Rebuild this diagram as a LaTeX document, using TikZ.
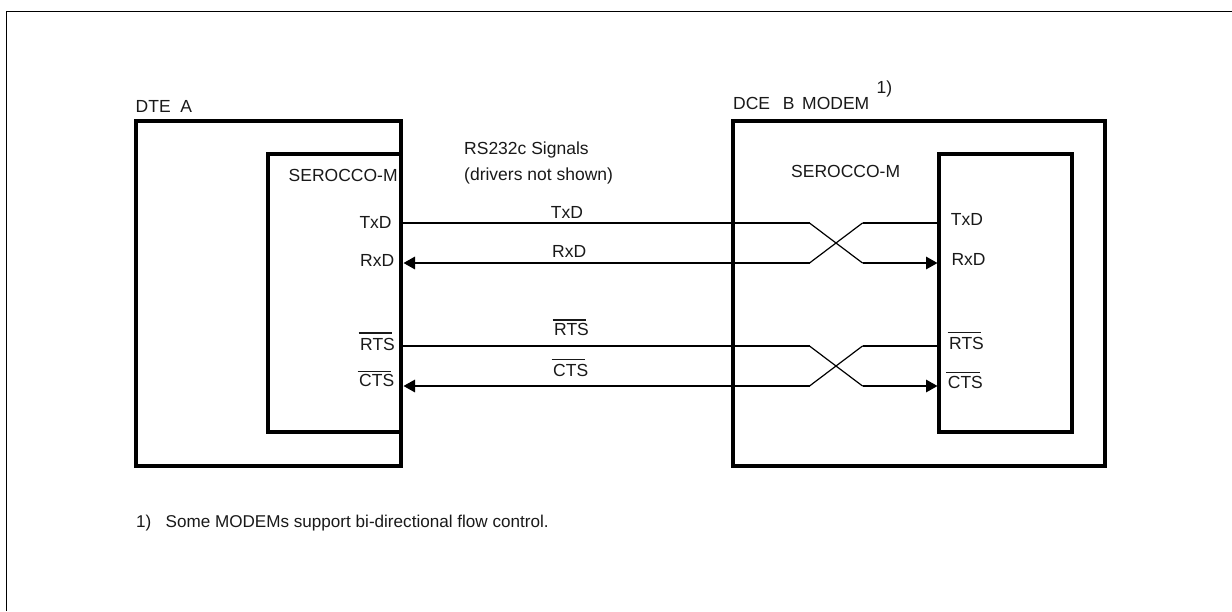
\documentclass[tikz,border=0pt]{standalone}
\usepackage{fontspec}
\setmainfont{Liberation Sans}
\usetikzlibrary{arrows.meta}
\tikzset{
  x=1pt,y=-1pt,
  box/.style={line width=3.2pt,line cap=rect},
  sig/.style={line width=1.6pt},
  cross/.style={line width=1.2pt,line cap=round},
  tip/.style={-{Triangle[length=11.5pt,width=12.5pt]}},
  lbl/.style={inner sep=0pt,anchor=base west,font=\fontsize{17.5}{20}\selectfont,text=black!90},
  note/.style={inner sep=0pt,anchor=base west,font=\fontsize{17.1}{20}\selectfont,text=black!90},
}
% #1 = height of the bar above the baseline, in px
\newcommand{\ovl}[2]{\leavevmode\rlap{\kern-1.5pt\raisebox{#1pt}{\rule{33.7pt}{1.5pt}}}#2}
\begin{document}
\begin{tikzpicture}
\useasboundingbox (0,0) rectangle (1232,611);
\draw[line width=1.2pt] (6.5,611) -- (6.5,11.5) -- (1232,11.5);
% boxes
\draw[box] (401,154) -- (268,154) -- (268,432) -- (401,432);
\draw[box] (136,121) rectangle (401,466);
\draw[box] (733,121) rectangle (1105,466);
\draw[box] (939,154) rectangle (1072,432);
% anchors
\coordinate (aT) at (403,223);
\coordinate (aR) at (403.5,263);
\coordinate (aS) at (403,346);
\coordinate (aC) at (403.5,386);
\coordinate (bT) at (938,223);
\coordinate (bR) at (937.5,263);
\coordinate (bS) at (938,346);
\coordinate (bC) at (937.5,386);
\coordinate (x1a) at (809.5,223);
\coordinate (x1b) at (862.5,263);
\coordinate (x1c) at (809.5,263);
\coordinate (x1d) at (862.5,223);
\coordinate (x2a) at (809.5,346);
\coordinate (x2b) at (862.5,386);
\coordinate (x2c) at (809.5,386);
\coordinate (x2d) at (862.5,346);
% signals
\draw[sig] (aT) -- (x1a);
\draw[cross] (x1a) -- (x1b);
\draw[sig,tip] (x1b) -- (bR);
\draw[sig,tip] (x1c) -- (aR);
\draw[cross] (x1c) -- (x1d);
\draw[sig] (x1d) -- (bT);
\draw[sig] (aS) -- (x2a);
\draw[cross] (x2a) -- (x2b);
\draw[sig,tip] (x2b) -- (bC);
\draw[sig,tip] (x2c) -- (aC);
\draw[cross] (x2c) -- (x2d);
\draw[sig] (x2d) -- (bS);
% labels
\node[lbl] (dte) at (135.5,112.7) {DTE\ \ A};
\node[lbl] (dce) at (733,109.3) {DCE\ \ \,B\ \,MODEM};
\node[lbl] (fn) at (876.5,93.3) {1)};
\node[lbl] (sa) at (288.5,181.7) {SEROCCO-M};
\node[lbl] (sb) at (791,177.3) {SEROCCO-M};
\node[lbl] (rs) at (464,154) {RS232c Signals};
\node[lbl] (dr) at (464,180.7) {(drivers not shown)};
\node[lbl] (t1) at (359.3,228) {TxD};
\node[lbl] (r1) at (360,266.7) {RxD};
\node[lbl] (s1) at (360,350) {\ovl{16.5}{RTS}};
\node[lbl] (c1) at (359,386.7) {\ovl{14.5}{CTS}};
\node[lbl] (t2) at (550.7,218) {TxD};
\node[lbl] (r2) at (552,257.7) {RxD};
\node[lbl] (s2) at (554,335) {\ovl{14.5}{RTS}};
\node[lbl] (c2) at (553,376) {\ovl{16}{CTS}};
\node[lbl] (t3) at (950.7,225) {TxD};
\node[lbl] (r3) at (951.3,265) {RxD};
\node[lbl] (s3) at (949,349.3) {\ovl{16}{RTS}};
\node[lbl] (c3) at (947.7,388.3) {\ovl{15}{CTS}};
\node[note] (n) at (136,527) {1)\ \ \ Some MODEMs support bi-directional flow control.};
\end{tikzpicture}
\end{document}
